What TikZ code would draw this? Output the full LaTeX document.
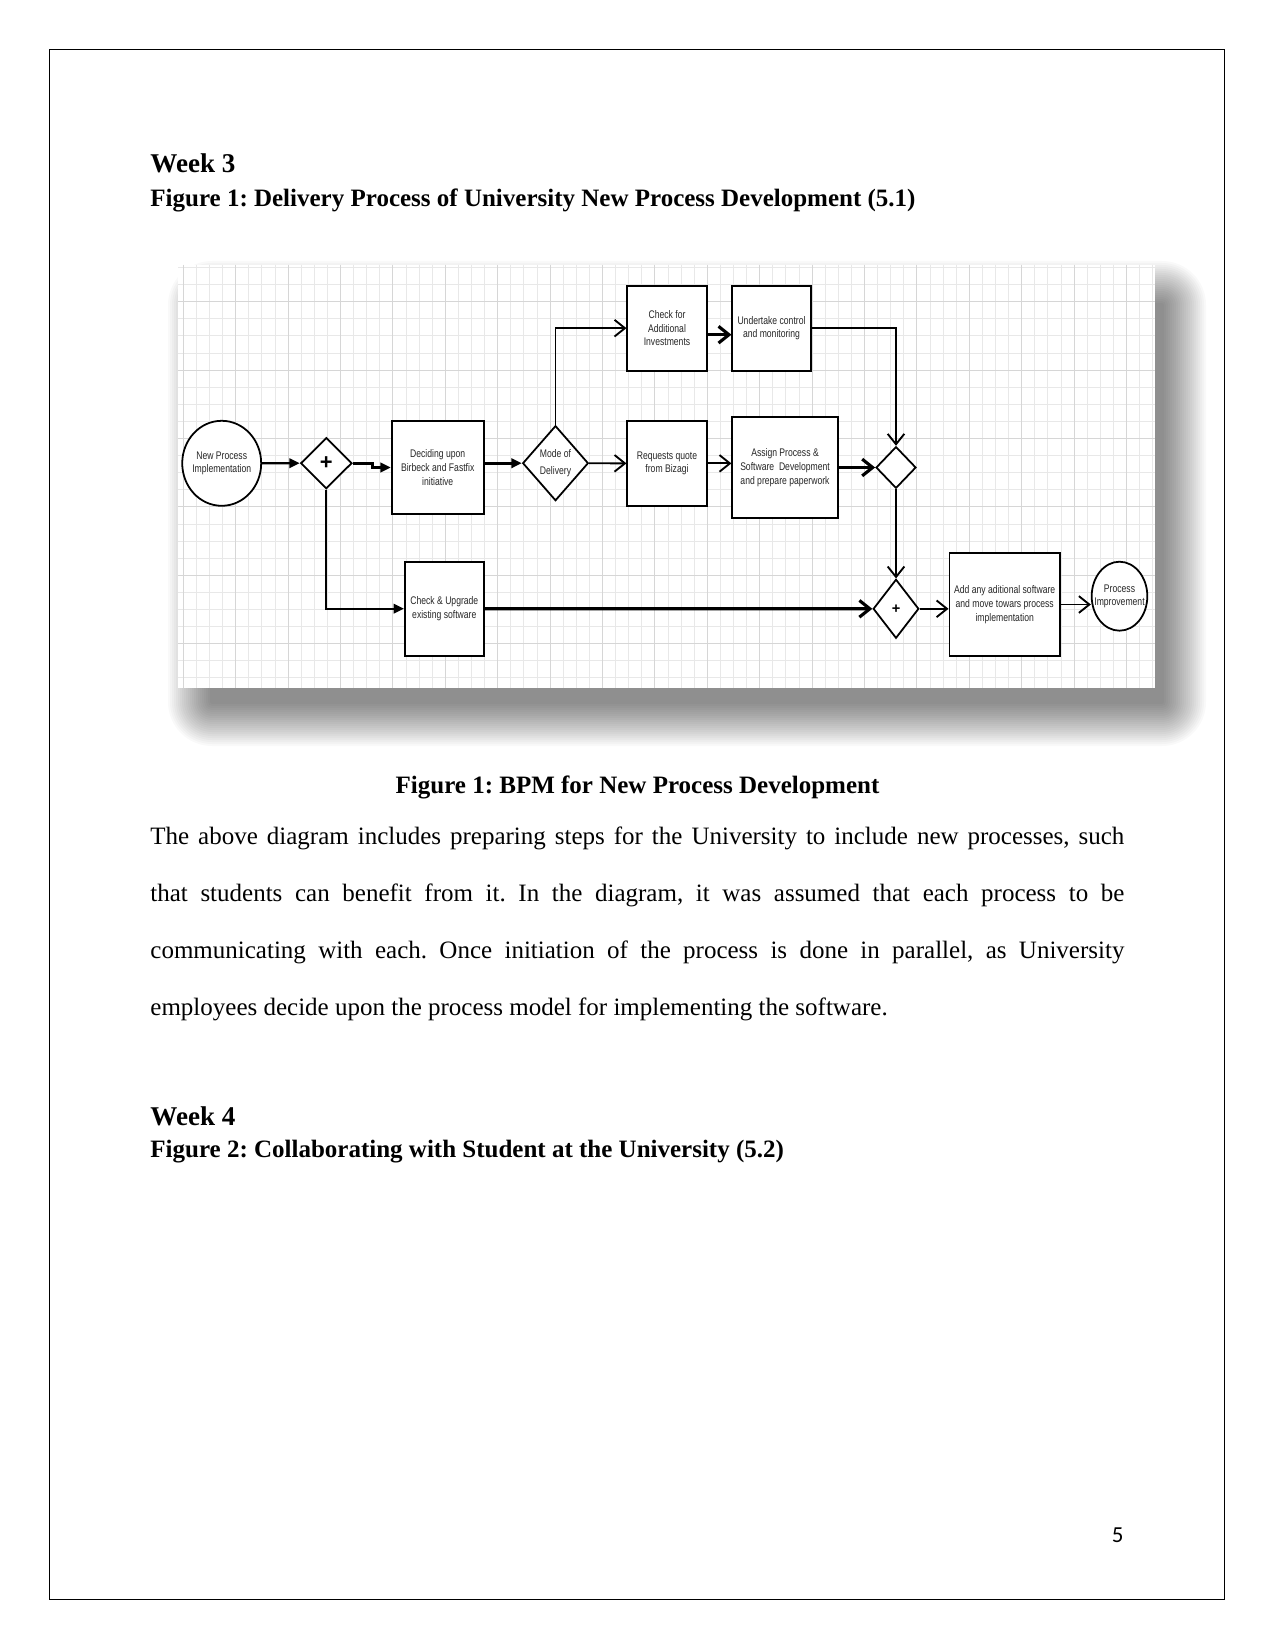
\documentclass[tikz,border=0pt]{standalone}
\usepackage{fontspec}
\setmainfont{Liberation Serif}
\newfontfamily\diagfont[FakeStretch=0.78]{Liberation Sans}
\newfontfamily\plusfont{Liberation Sans}
\newfontfamily\pnumfont{Carlito}
\usetikzlibrary{arrows.meta,shapes.geometric,calc}
\frenchspacing
\newcommand{\zw}[1]{\makebox[0pt]{\begin{tabular}{@{}c@{}}#1\end{tabular}}}
\tikzset{
  dtext/.style={font={\diagfont\fontsize{5.3}{6.6}\selectfont}, text=black!85},
  flowbox/.style={draw, rectangle, line width=0.85pt, fill=white, inner sep=0pt, align=center, dtext},
  evt/.style={draw, ellipse, line width=0.85pt, fill=white, inner sep=0pt, dtext},
  gate/.style={draw, diamond, aspect=1, line width=0.85pt, fill=white, inner sep=0pt},
  arr/.style={-{Straight Barb[length=5pt,width=8pt]}, line width=0.9pt},
  farr/.style={-{Triangle[length=5pt,width=4.5pt]}, line width=1.1pt},
  thk/.style={line width=1.5pt},
  gridminor/.style={draw=black!9, line width=0.45pt},
  gridmajor/.style={draw=black!16, line width=0.5pt},
  shadowlayer/.style={fill=black, fill opacity=0.025},
  pagetext/.style={anchor=base west, inner sep=0pt, font={\fontsize{12}{14}\selectfont}},
  headtext/.style={anchor=base west, inner sep=0pt, font={\bfseries\fontsize{12}{14}\selectfont}},
}
\begin{document}
\begin{tikzpicture}[x=0.48pt,y=-0.48pt]
\useasboundingbox (0,0) rectangle (1275,1650);
\fill[white] (0,0) rectangle (1275,1650);
% page frame
\draw[line width=0.7pt] (49.5,49.5) rectangle (1224.5,1599.5);

% headings
\node[headtext, font={\bfseries\fontsize{13}{15}\selectfont}] (wk3) at (150,173) {Week 3};
\node[headtext] (fig1) at (150,207) {Figure 1: Delivery Process of University New Process Development (5.1)};

% soft shadow of the image
\foreach \r in {2,4,...,44}
  \fill[shadowlayer, rounded corners={\r*0.48pt}] ({212-\r},{305-\r}) rectangle ({1162+\r},{702+\r});
% image
\fill[white] (178,265) rectangle (1155,688);
\begin{scope}
\clip (178,265) rectangle (1155,688);
\foreach \i in {0,...,74} \draw[gridminor] ({183.3+13.1*\i},265) -- ++(0,423);
\foreach \k in {-2,...,22} \draw[gridminor] (178,{301.7+17.1*\k}) -- ++(977,0);
\foreach \i in {0,4,...,72} \draw[gridmajor] ({183.3+13.1*\i},265) -- ++(0,423);
\foreach \k in {0,4,...,20} \draw[gridmajor] (178,{301.7+17.1*\k}) -- ++(977,0);
\end{scope}

% nodes
\node[evt, minimum width=37.9pt, minimum height=40.8pt] (start) at (221.7,463.3) {\zw{New Process\\Implementation}};
\node[gate, minimum width=24.6pt, minimum height=24.5pt, font={\plusfont\bfseries\fontsize{10.5}{10.5}\selectfont}] (gw1) at (326.3,463.2) {+};
\node[flowbox, minimum width=44.2pt, minimum height=44.9pt] (decide) at (437.7,467.5) {Deciding upon\\Birbeck and Fastfix\\initiative};
\node[gate, minimum width=31.5pt, minimum height=36pt, dtext, align=center] (mode) at (555.5,463.2) {Mode of\\[1.6pt]Delivery};
\node[flowbox, minimum width=38.1pt, minimum height=40.8pt] (checkadd) at (667,328.2) {Check for\\Additional\\Investments};
\node[flowbox, minimum width=37.6pt, minimum height=40.8pt] (undertake) at (771.5,328.2) {Undertake control\\and monitoring};
\node[flowbox, minimum width=38.1pt, minimum height=40.9pt] (requests) at (667,463.4) {Requests quote\\from Bizagi};
\node[flowbox, minimum width=50.6pt, minimum height=48.8pt] (assign) at (785,467.5) {Assign Process \&\\Software~~Development\\and prepare paperwork};
\node[gate, minimum width=19.2pt, minimum height=20pt] (gw2) at (896,467.5) {};
\node[flowbox, minimum width=37.8pt, minimum height=45.1pt] (checkup) at (444.3,608.7) {Check \& Upgrade\\existing software};
\node[gate, minimum width=21.9pt, minimum height=28.3pt, font={\plusfont\bfseries\fontsize{7}{7}\selectfont}] (gw3) at (896,608.8) {+};
\node[flowbox, minimum width=53.1pt, minimum height=49.2pt] (addany) at (1004.7,604.5) {Add any aditional software\\and move towars process\\implementation};
\node[evt, minimum width=26.7pt, minimum height=33.1pt] (endc) at (1119.5,596.2) {\zw{Process\\Improvement}};

% connectors
\draw[farr] (start.east) -- (gw1.west);
\draw[farr, thk] (gw1.east) -- ++(19.7,0) |- (decide.west);
\draw[farr, thk] (decide.east |- mode.west) -- (mode.west);
\draw[arr] (mode.north) |- (checkadd.west);
\draw[arr, thk] ($(checkadd.east)+(0,6.5)$) -- ($(undertake.west)+(0,6.5)$);
\draw[arr] (undertake.east) -| (gw2.north);
\draw[arr] (mode.east) -- (requests.west);
\draw[arr] (requests.east) -- (requests.east -| assign.west);
\draw[arr, thk] (assign.east) -- (gw2.west);
\draw[arr] (gw2.south) -- (gw3.north);
\draw[farr] (gw1.south) |- (checkup.west);
\draw[arr, thk] (checkup.east) -- (gw3.west);
\draw[arr] (gw3.east) -- (gw3.east -| addany.west);
\draw[arr] (addany.east) -- (addany.east -| endc.west);

% caption and body text
\node[inner sep=0pt, anchor=base, font={\bfseries\fontsize{12}{14}\selectfont}] (cap) at (637.5,793) {Figure 1: BPM for New Process Development};
\node[pagetext] (l1) at (150,844) {\makebox[467.5pt][s]{The above diagram includes preparing steps for the University to include new processes, such}};
\node[pagetext] (l2) at (150,901) {\makebox[467.5pt][s]{that students can benefit from it. In the diagram, it was assumed that each process to be}};
\node[pagetext] (l3) at (150,958) {\makebox[467.5pt][s]{communicating with each. Once initiation of the process is done in parallel, as University}};
\node[pagetext] (l4) at (150,1015) {employees decide upon the process model for implementing the software.};

\node[headtext, font={\bfseries\fontsize{13}{15}\selectfont}] (wk4) at (150,1125) {Week 4};
\node[headtext] (fig2) at (150,1157) {Figure 2: Collaborating with Student at the University (5.2)};

\node[anchor=base east, inner sep=0pt, font={\pnumfont\fontsize{11}{13}\selectfont}] (pnum) at (1124,1542) {5};
\end{tikzpicture}
\end{document}
